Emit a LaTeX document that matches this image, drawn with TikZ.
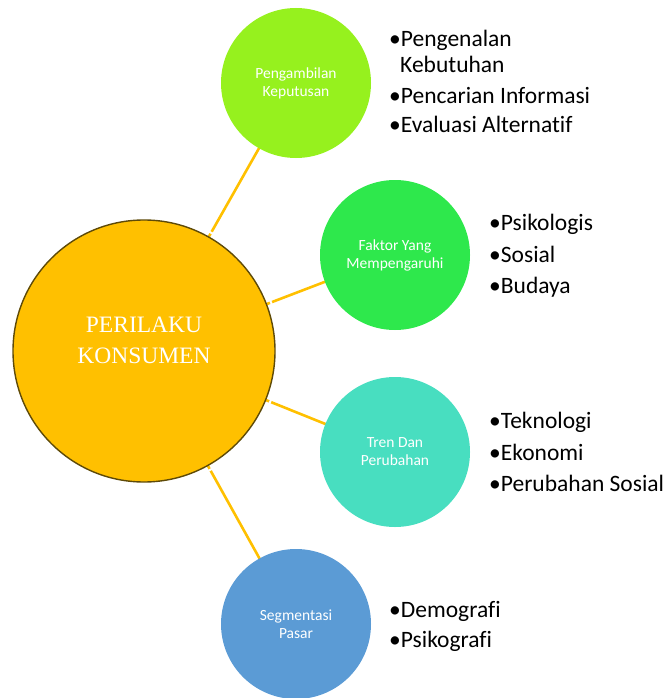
\documentclass[tikz,border=0pt]{standalone}
\usepackage{fontspec}
\setmainfont[Ligatures={NoCommon}]{Carlito}
\newfontfamily\centerfont{Liberation Serif}
\usetikzlibrary{calc}
\definecolor{gold}{HTML}{FFC000}
\definecolor{goldrim}{HTML}{5E4A08}
\definecolor{cA}{HTML}{96F11E}
\definecolor{cB}{HTML}{2EE84C}
\definecolor{cC}{HTML}{48DEC0}
\definecolor{cD}{HTML}{5B9BD5}
\tikzset{
  small/.style={circle, minimum size=150pt, inner sep=0pt, draw=none, text=white,
    align=center, font=\fontsize{15.5}{18}\selectfont},
  link/.style={draw=gold, line width=2.6pt},
  gap/.style={draw=white, line width=4pt},
  item/.style={anchor=base west, inner sep=0pt, font=\fontsize{23.5}{28}\selectfont, text=black},
  ctext/.style={anchor=base, inner sep=0pt, text=white, font=\centerfont\fontsize{23.5}{28}\selectfont}
}
\begin{document}
\begin{tikzpicture}[x=1pt,y=-1pt]
\useasboundingbox (0,0) rectangle (666,698);
% centers
\coordinate (bc) at (144,351);
\coordinate (ac) at (296,83);
\coordinate (fc) at (395,255);
\coordinate (tc) at (395,452);
\coordinate (sc) at (296,624);
% links
\foreach \t in {ac,fc,tc,sc}{
  \draw[link] ($(bc)!128pt!(\t)$) -- ($(\t)!70pt!(bc)$);
  \draw[gap] ($(bc)!135pt!(\t)$) -- ($(bc)!137pt!(\t)$);
}
% circles
\node[circle, minimum size=262pt, inner sep=0pt, fill=gold, draw=goldrim, line width=1.4pt] (big) at (bc) {};
\node[ctext] (ct1) at (144,332) {PERILAKU};
\node[ctext] (ct2) at (144,363) {KONSUMEN};
\node[small, fill=cA] (pa) at (ac) {Pengambilan\\Keputusan};
\node[small, fill=cB] (fa) at (fc) {Faktor Yang\\Mempengaruhi};
\node[small, fill=cC] (tr) at (tc) {Tren Dan\\Perubahan};
\node[small, fill=cD] (se) at (sc) {Segmentasi\\Pasar};
% lists
\node[item] (a1) at (389,47) {•Pengenalan};
\node[item] (a1b) at (400,73) {Kebutuhan};
\node[item] (a2) at (389,103) {•Pencarian Informasi};
\node[item] (a3) at (389,132) {•Evaluasi Alternatif};
\node[item] (b1) at (489,230) {•Psikologis};
\node[item] (b2) at (489,262) {•Sosial};
\node[item] (b3) at (489,293) {•Budaya};
\node[item] (c1) at (489,428) {•Teknologi};
\node[item] (c2) at (489,460) {•Ekonomi};
\node[item] (c3) at (489,491) {•Perubahan Sosial};
\node[item] (d1) at (389,617) {•Demografi};
\node[item] (d2) at (389,647) {•Psikografi};
\end{tikzpicture}
\end{document}
